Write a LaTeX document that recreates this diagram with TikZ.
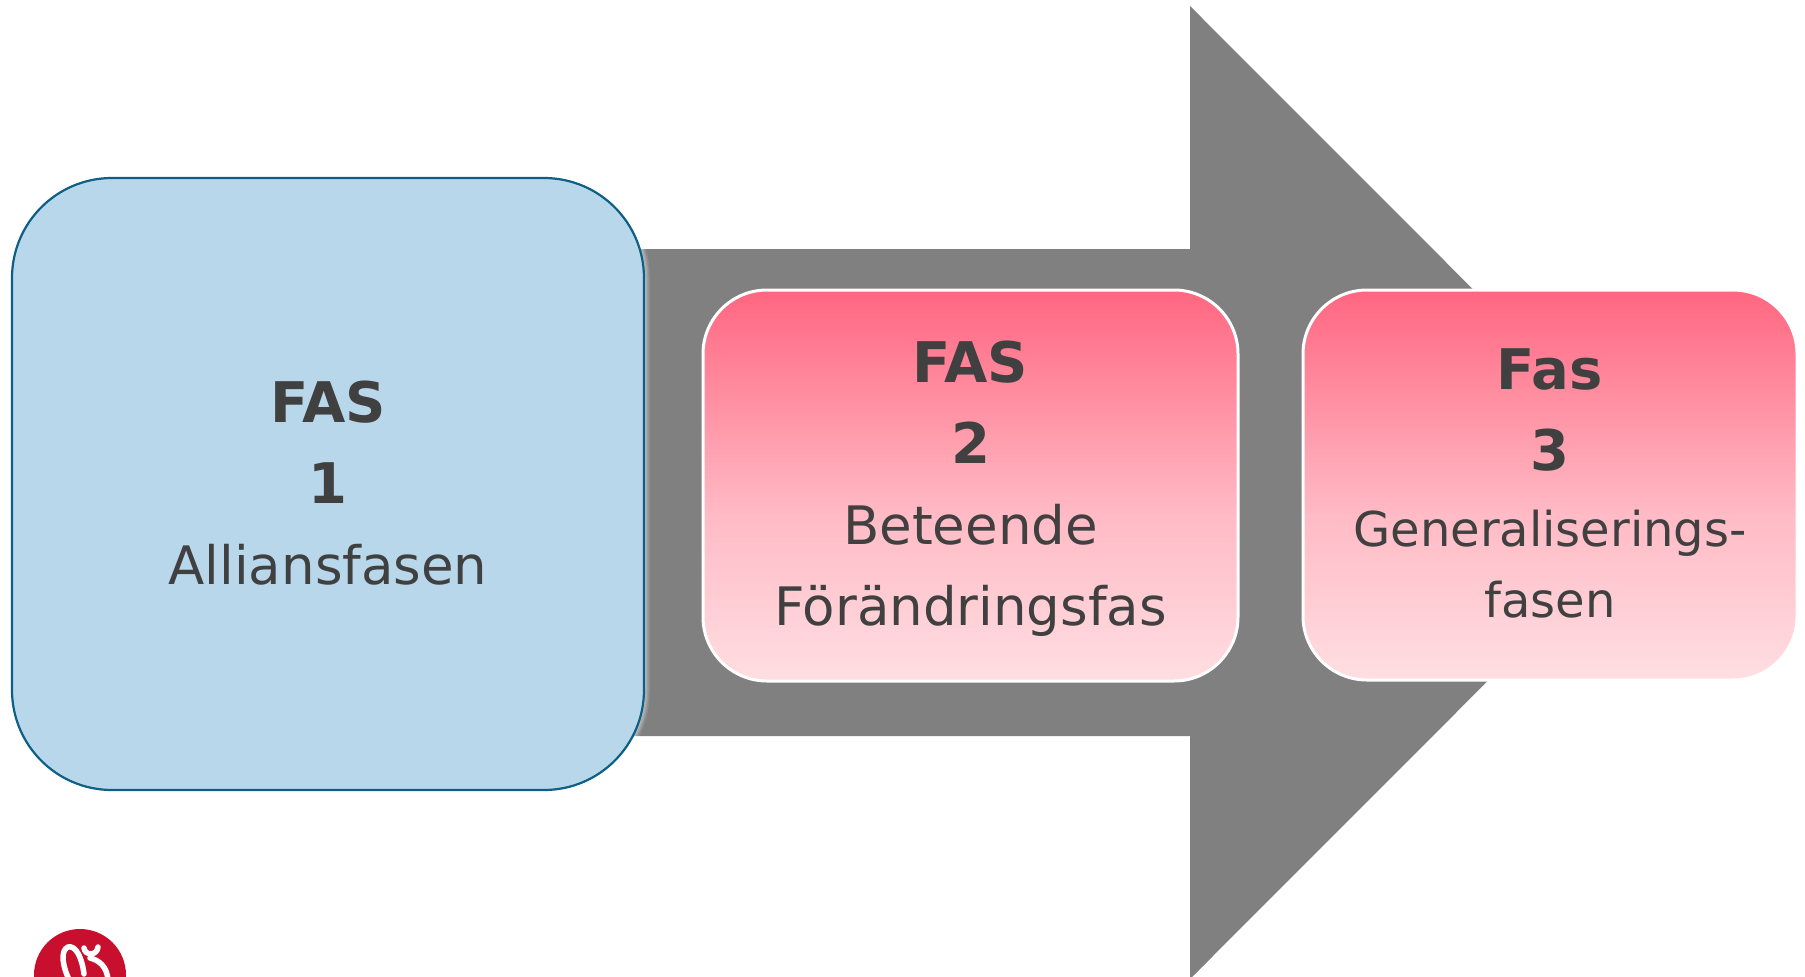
\documentclass[tikz,border=0pt]{standalone}
\usepackage{fontspec}
\setmainfont{DejaVu Sans}
\definecolor{txt}{HTML}{404040}
\definecolor{arrowgray}{HTML}{808080}
\definecolor{bluefill}{HTML}{B9D7EA}
\definecolor{blueedge}{HTML}{0E5F85}
\definecolor{logored}{HTML}{C8102E}
\definecolor{pink0}{HTML}{FFDEE2}
\definecolor{pink1}{HTML}{FFBBC6}
\definecolor{pink2}{HTML}{FF6680}
\pgfdeclareverticalshading{pinkfade}{100bp}{
  color(0bp)=(pink0); color(25bp)=(pink0); color(46bp)=(pink1); color(75bp)=(pink2); color(100bp)=(pink2)}
\newcommand{\headline}[1]{{\fontsize{56}{81}\selectfont\textbf{#1}}}
\tikzset{
  phase/.style={inner sep=0pt,anchor=center},
  caption/.style={align=center,text=txt,inner sep=0pt,anchor=center,font=\fontsize{53}{81}\selectfont},
  bluebox/.style={phase,draw=blueedge,line width=2.2pt,fill=bluefill,rounded corners=100pt,
     minimum width=632pt,minimum height=612pt},
  pinkbox/.style={phase,draw=white,line width=3pt,rounded corners=64pt,shading=pinkfade},
  logostroke/.style={draw=white,line width=5.5pt,line cap=round,line join=round}
}
\begin{document}
\begin{tikzpicture}[x=1pt,y=-1pt]
\useasboundingbox (0,0) rectangle (1805,977);
\clip (0,0) rectangle (1805,977);
\fill[white] (0,0) rectangle (1805,977);
% arrow
\fill[arrowgray] (600,249) -- (1190,249) -- (1190,6) -- (1676,492.5) -- (1190,979) -- (1190,736) -- (600,736) -- cycle;
% soft glow round the blue box
\foreach \w/\o in {12/0.10,9/0.14,6/0.18,3/0.25}{
  \draw[white,opacity=\o,line width=\w pt,rounded corners=100pt] (12,178) rectangle (644,790);
}
\node[bluebox] (fas1) at (328,484) {};
\node[caption] (fas1t) at (328,483) {\headline{FAS}\\\headline{1}\\Alliansfasen};
\node[pinkbox,minimum width=535pt,minimum height=391pt] (fas2) at (970.5,485.5) {};
\node[caption] (fas2t) at (970.5,489) {\headline{FAS}\\\headline{2}\\Beteende\\Förändringsfas};
\node[pinkbox,minimum width=494pt,minimum height=390pt] (fas3) at (1550,485) {};
\node[caption] (fas3t) at (1550,483) {\headline{Fas}\\\headline{3}\\[-5pt]\fontsize{48}{81}\selectfont Generaliserings-\\[-10pt]\fontsize{48}{81}\selectfont fasen};
% logo
\fill[logored] (80,975) circle (46);
\draw[logostroke] (72,985) .. controls (62,968) and (60,950) .. (68,947) .. controls (76,945) and (82,958) .. (84,974);
\draw[logostroke] (84,948) .. controls (85,956) and (97,956) .. (98,947);
\draw[logostroke] (90,958) .. controls (98,960) and (108,966) .. (108,982);
\end{tikzpicture}
\end{document}
